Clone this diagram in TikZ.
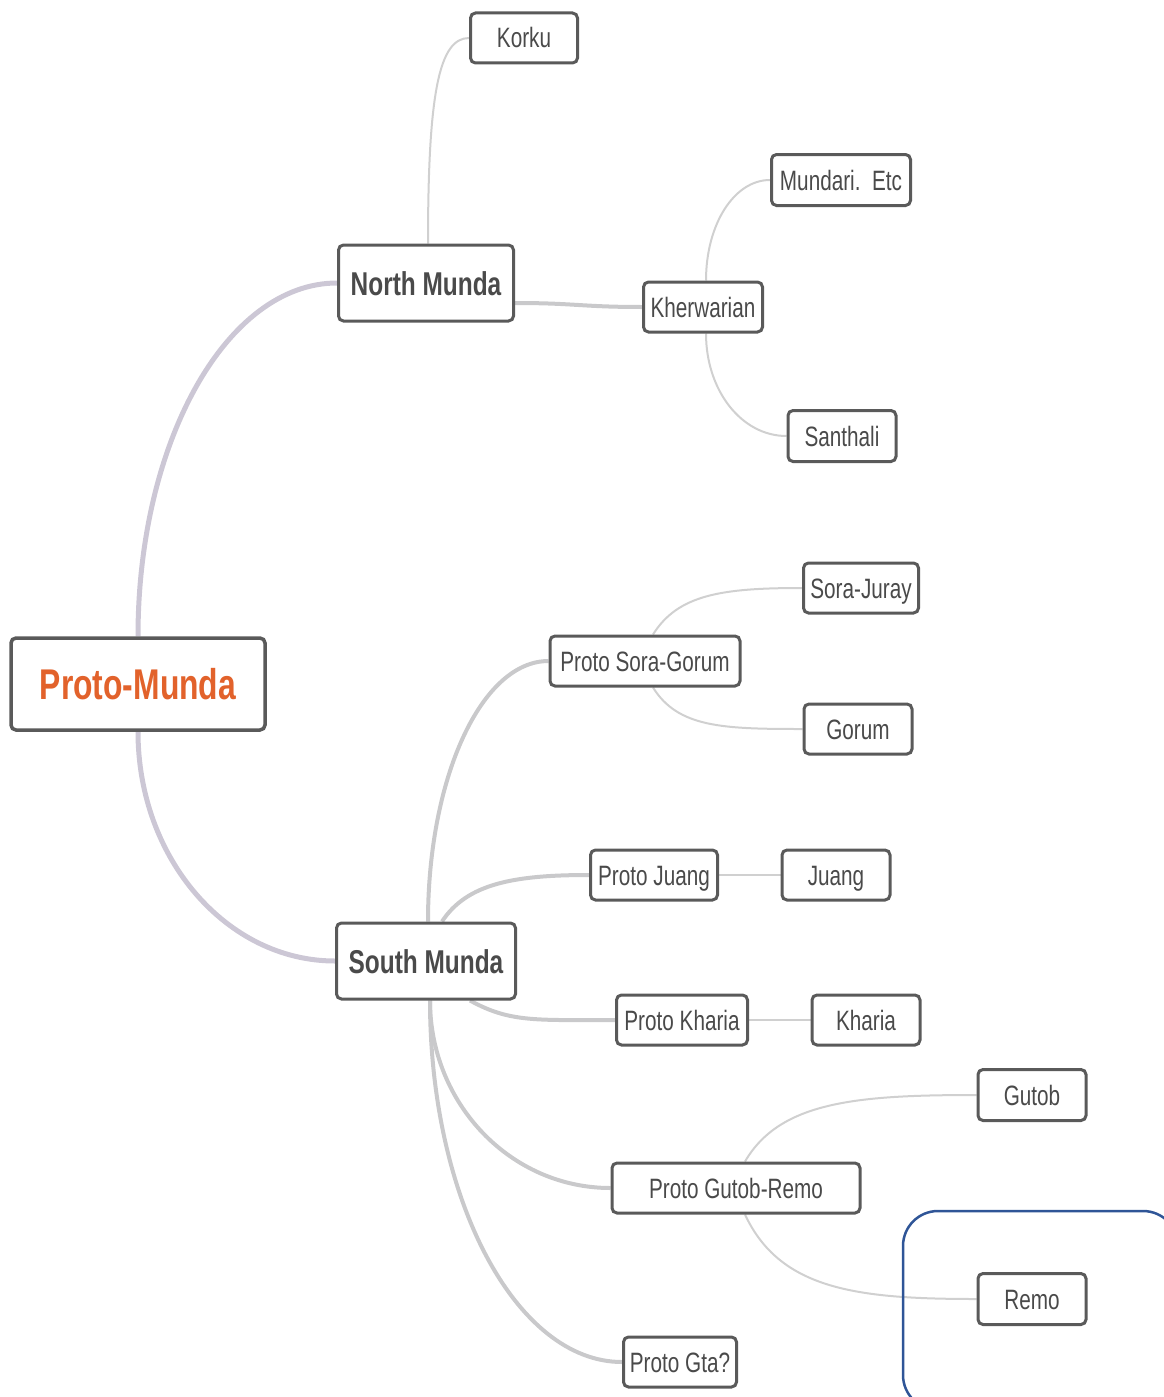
\documentclass[tikz,border=0pt]{standalone}
\usepackage{fontspec}
\setmainfont[FakeStretch=0.74]{Liberation Sans}
\usetikzlibrary{backgrounds}
\definecolor{txt}{HTML}{4A4A4A}
\definecolor{bord}{HTML}{5A5A5A}
\definecolor{orng}{HTML}{E2622B}
\definecolor{mainln}{HTML}{CCC7D5}
\definecolor{midln}{HTML}{C9C9CB}
\definecolor{thinln}{HTML}{D0D0D0}
\definecolor{blueframe}{HTML}{2F5597}
\tikzset{
  box/.style={draw=bord, line width=3pt, rounded corners=5pt, fill=white,
    text=txt, inner sep=0pt, align=center, text height=20pt, text depth=0pt,
    font=\fontsize{28}{30}\selectfont},
  bigbox/.style={box, text height=24pt, font=\fontsize{33}{36}\selectfont\bfseries},
  rootbox/.style={box, line width=3.5pt, text=orng, text height=31pt,
    font=\fontsize{43}{45}\selectfont\bfseries},
  mainline/.style={draw=mainln, line width=5pt},
  midline/.style={draw=midln, line width=4pt},
  thinline/.style={draw=thinln, line width=2pt}
}
\begin{document}
\begin{tikzpicture}[x=1pt,y=-1pt]
\useasboundingbox (0,0) rectangle (1164,1397);
% nodes
\node[rootbox, minimum width=254pt, minimum height=92pt] (pm) at (138,684) {Proto-Munda};
\node[bigbox, minimum width=175pt, minimum height=76pt] (nm) at (426,283) {North Munda};
\node[bigbox, minimum width=179pt, minimum height=76pt] (sm) at (426,961) {South Munda};
\node[box, minimum width=107pt, minimum height=50pt] (korku) at (524,38) {Korku};
\node[box, minimum width=139pt, minimum height=51pt] (mund) at (841,180) {Mundari.~~Etc};
\node[box, minimum width=119pt, minimum height=50pt] (kh) at (703,307) {Kherwarian};
\node[box, minimum width=108pt, minimum height=51pt] (sant) at (842,436) {Santhali};
\node[box, minimum width=115pt, minimum height=50pt] (sj) at (861,588) {Sora-Juray};
\node[box, minimum width=190pt, minimum height=50pt] (psg) at (645,661) {Proto Sora-Gorum};
\node[box, minimum width=108pt, minimum height=50pt] (gorum) at (858,729) {Gorum};
\node[box, minimum width=127pt, minimum height=50pt] (pj) at (654,875) {Proto Juang};
\node[box, minimum width=108pt, minimum height=50pt] (juang) at (836,875) {Juang};
\node[box, minimum width=131pt, minimum height=50pt] (pk) at (682,1020) {Proto Kharia};
\node[box, minimum width=108pt, minimum height=50pt] (kharia) at (866,1020) {Kharia};
\node[box, minimum width=108pt, minimum height=51pt] (gutob) at (1032,1095) {Gutob};
\node[box, minimum width=248pt, minimum height=50pt] (pgr) at (736,1188) {Proto Gutob-Remo};
\node[box, minimum width=108pt, minimum height=51pt] (remo) at (1032,1299) {Remo};
\node[box, minimum width=113pt, minimum height=50pt] (pgta) at (680,1362) {Proto Gta?};
% connectors
\begin{scope}[on background layer]
\draw[mainline] (pm.north) .. controls +(0,-195) and +(-110,0) .. (nm.west);
\draw[mainline] (pm.south) .. controls +(0,127) and +(-108,0) .. (sm.west);
\draw[thinline] ([xshift=2pt]nm.north) .. controls +(0,-150) and +(-30,0) .. (korku.west);
\draw[midline] ([yshift=-20pt]nm.east) .. controls +(60,0) and +(-60,0) .. (kh.west);
\draw[thinline] ([xshift=3pt]kh.north) .. controls +(0,-56) and +(-36,0) .. (mund.west);
\draw[thinline] ([xshift=3pt]kh.south) .. controls +(0,57) and +(-45,0) .. (sant.west);
\draw[midline] ([xshift=2pt]sm.north) .. controls +(0,-144) and +(-67,0) .. (psg.west);
\draw[midline] ([xshift=16pt]sm.north) .. controls +(25,-38) and +(-75,0) .. (pj.west);
\draw[midline] ([xshift=44pt]sm.south) .. controls +(40,22) and +(-80,0) .. (pk.west);
\draw[midline] ([xshift=4pt]sm.south) .. controls +(0,103) and +(-100,0) .. (pgr.west);
\draw[midline] ([xshift=4pt]sm.south) .. controls +(0,199) and +(-106,0) .. (pgta.west);
\draw[thinline] ([xshift=8pt]psg.north) .. controls +(25,-40) and +(-80,0) .. (sj.west);
\draw[thinline] ([xshift=8pt]psg.south) .. controls +(25,40) and +(-80,0) .. (gorum.west);
\draw[thinline] (pj.east) -- (juang.west);
\draw[thinline] (pk.east) -- (kharia.west);
\draw[thinline] ([xshift=9pt]pgr.north) .. controls +(35,-60) and +(-120,0) .. (gutob.west);
\draw[thinline] ([xshift=9pt]pgr.south) .. controls +(35,75) and +(-120,0) .. (remo.west);
\end{scope}
% blue frame
\begin{scope}
\clip (0,0) rectangle (1164,1397);
\draw[blueframe, line width=2.5pt, rounded corners=35pt] (903,1211) rectangle (1178,1410);
\end{scope}
\end{tikzpicture}
\end{document}
